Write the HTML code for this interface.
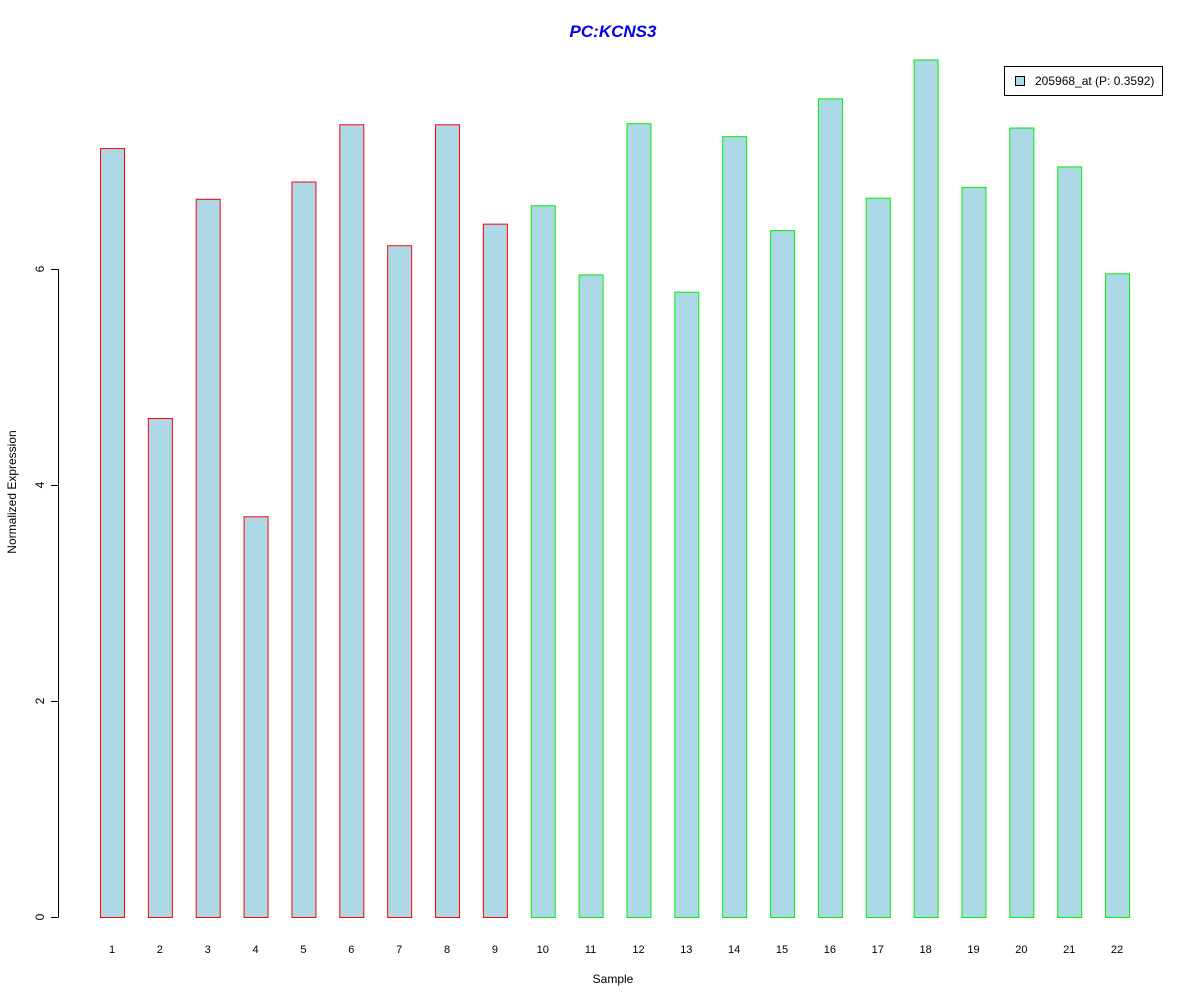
<!DOCTYPE html>
<html><head><meta charset="utf-8"><style>body{margin:0;background:#fff}svg{display:block}text{font-family:"Liberation Sans",sans-serif}</style></head>
<body>
<svg id="chart" width="1200" height="1000">
<text x="613" y="37" text-anchor="middle" font-size="17" font-weight="bold" font-style="italic" fill="#0000ee">PC:KCNS3</text>
<text x="613" y="983" text-anchor="middle" font-size="12">Sample</text>
<text transform="translate(16,492) rotate(-90)" text-anchor="middle" font-size="12">Normalized Expression</text>
<g id="yaxis"></g>
<g id="bars"></g>
<g id="xlabels"></g>
<g>
<rect x="1004.5" y="66.5" width="158" height="29" fill="#fff" stroke="#000"/>
<rect x="1015.5" y="76.5" width="9" height="9" fill="#add8e6" stroke="#000"/>
<text x="1035" y="85" font-size="12">205968_at (P: 0.3592)</text>
</g>
</svg>
<script>
const categories=["1","2","3","4","5","6","7","8","9","10","11","12","13","14","15","16","17","18","19","20","21","22"];
const values=[7.12,4.62,6.65,3.71,6.81,7.34,6.22,7.34,6.42,6.59,5.95,7.35,5.79,7.23,6.36,7.58,6.66,7.94,6.76,7.31,6.95,5.96];
const groups=["r","r","r","r","r","r","r","r","r","g","g","g","g","g","g","g","g","g","g","g","g","g"];
const yTicks=[0,2,4,6];
const NS="http://www.w3.org/2000/svg";
const y=v=>917-v*108;
const x=i=>112+i*47.86;
const ya=document.getElementById('yaxis');
let ln=document.createElementNS(NS,'line');
ln.setAttribute('x1',58.5);ln.setAttribute('x2',58.5);ln.setAttribute('y1',y(yTicks[0]));ln.setAttribute('y2',y(yTicks[yTicks.length-1]));ln.setAttribute('stroke','#000');


ya.appendChild(ln);
yTicks.forEach(t=>{
 const tk=document.createElementNS(NS,'line');
 tk.setAttribute('x1',51);tk.setAttribute('x2',58.5);tk.setAttribute('y1',y(t)+.5);tk.setAttribute('y2',y(t)+.5);tk.setAttribute('stroke','#000');
 
 
 ya.appendChild(tk);
 const tx=document.createElementNS(NS,'text');
 tx.setAttribute('transform',`translate(44,${y(t)}) rotate(-90)`);tx.setAttribute('text-anchor','middle');tx.setAttribute('font-size','12');tx.textContent=t;
 
 
 ya.appendChild(tx);
});
const bg=document.getElementById('bars'),xl=document.getElementById('xlabels');
values.forEach((v,i)=>{
 const r=document.createElementNS(NS,'rect');
 r.setAttribute('x',x(i)-12+.5);r.setAttribute('width',24);r.setAttribute('y',y(v)+.5);r.setAttribute('height',y(0)-y(v));
 r.setAttribute('fill','#add8e6');r.setAttribute('stroke',groups[i]=='r'?'#ff0000':'#00ee00');
 
 
 bg.appendChild(r);
 const t=document.createElementNS(NS,'text');
 t.setAttribute('x',x(i));t.setAttribute('y',953);t.setAttribute('text-anchor','middle');t.setAttribute('font-size','11');t.textContent=categories[i];
 
 
 xl.appendChild(t);
});
</script>
</body></html>
